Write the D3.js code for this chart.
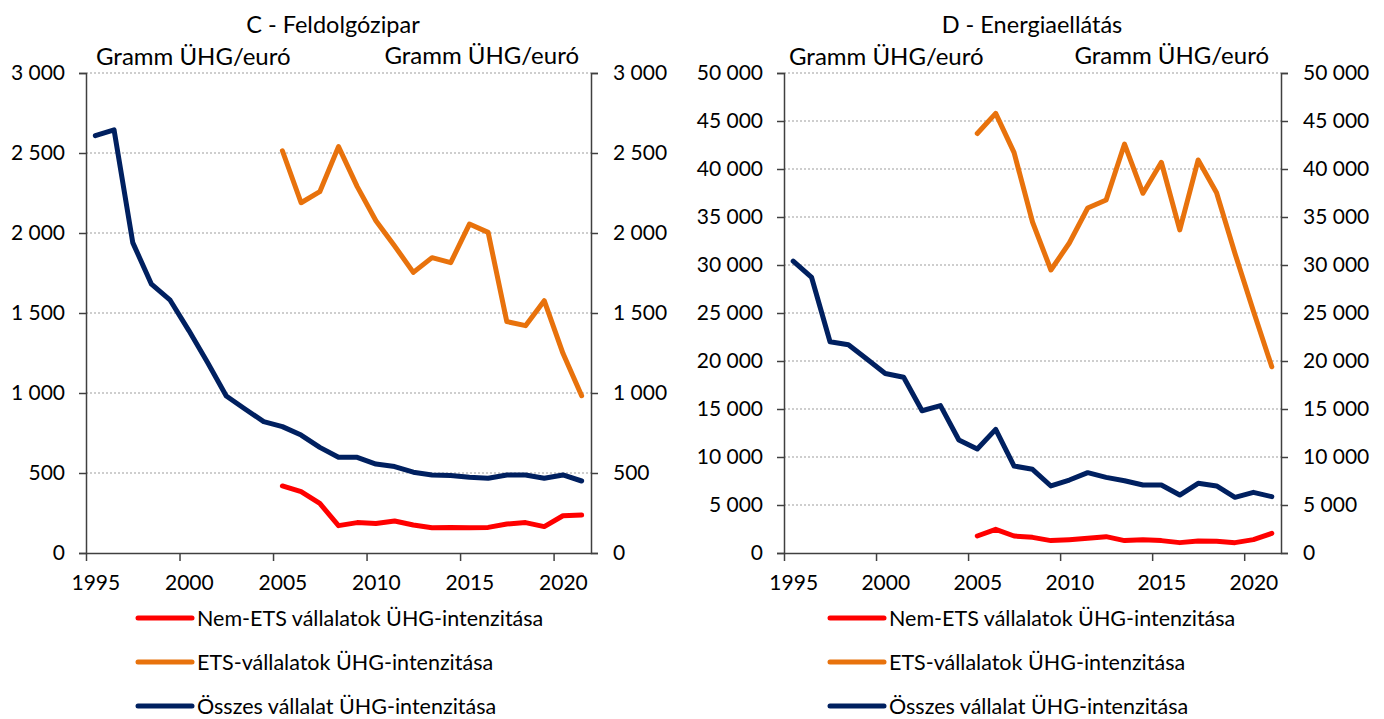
<!DOCTYPE html>
<html><head><meta charset="utf-8">
<script src="https://cdn.jsdelivr.net/npm/d3@7"></script>
<style>
body{margin:0;background:#fff;}
text{font-family:Lato,"Noto Sans",sans-serif;fill:#000;}
</style></head>
<body><svg id="c" width="1384" height="719"></svg>
<script>
const years = d3.range(1995, 2022);
const labelYears = [1995, 2000, 2005, 2010, 2015, 2020];
const seriesNames = ["Nem-ETS vállalatok ÜHG-intenzitása", "ETS-vállalatok ÜHG-intenzitása", "Összes vállalat ÜHG-intenzitása"];
const seriesColors = ["#FF0000", "#E8720C", "#002060"];
const titles = ["C - Feldolgózipar", "D - Energiaellátás"];
const unitLabel = "Gramm ÜHG/euró";

// C - Feldolgózipar (1995-2021)
const cTotal = [2608, 2645, 1940, 1680, 1580, 1390, 1190, 981, 900, 821, 790, 737, 660, 598, 598, 556, 540, 505, 488, 485, 473, 467, 488, 488, 467, 488, 450];
const cEts = [null, null, null, null, null, null, null, null, null, null, 2514, 2189, 2258, 2540, 2290, 2077, 1919, 1754, 1846, 1815, 2056, 2004, 1446, 1421, 1577, 1248, 983];
const cNonEts = [null, null, null, null, null, null, null, null, null, null, 419, 383, 310, 171, 190, 185, 200, 175, 158, 160, 158, 160, 181, 190, 165, 233, 237];
const cTicks = [0, 500, 1000, 1500, 2000, 2500, 3000];

// D - Energiaellátás (1995-2021)
const dTotal = [30400, 28700, 22000, 21700, 20200, 18700, 18300, 14820, 15350, 11770, 10830, 12880, 9060, 8720, 6980, 7600, 8370, 7880, 7530, 7080, 7080, 6040, 7260, 6980, 5800, 6320, 5870];
const dEts = [null, null, null, null, null, null, null, null, null, null, 43700, 45800, 41700, 34480, 29480, 32290, 35940, 36770, 42600, 37470, 40700, 33650, 40940, 37530, 31200, 25200, 19400];
const dNonEts = [null, null, null, null, null, null, null, null, null, null, 1770, 2470, 1770, 1630, 1290, 1390, 1530, 1700, 1290, 1390, 1290, 1080, 1250, 1220, 1080, 1390, 2050];
const dTicks = [0, 5000, 10000, 15000, 20000, 25000, 30000, 35000, 40000, 45000, 50000];

const fmt = d3.formatLocale({decimal: ",", thousands: " ", grouping: [3], currency: ["", ""]}).format(",");
const svg = d3.select("#c");

function panel(cfg) {
  const g = svg.append("g");
  const x = d3.scaleLinear().domain([1994.5, 2021.5]).range([cfg.x0, cfg.x1]);
  const y = d3.scaleLinear().domain([0, cfg.max]).range([553, 73]);
  const axisColor = "#404040";

  g.append("g").selectAll("line").data(cfg.ticks.filter(d => d > 0)).join("line")
    .attr("x1", cfg.x0).attr("x2", cfg.x1)
    .attr("y1", d => y(d)).attr("y2", d => y(d))
    .attr("stroke", "#BFBFBF").attr("stroke-width", 1.5).attr("stroke-dasharray", "2,2");

  const ya = g.append("g").attr("transform", `translate(${cfg.x0},0)`)
    .call(d3.axisLeft(y).tickValues(cfg.ticks).tickFormat(fmt).tickSize(7).tickPadding(14));
  const yb = g.append("g").attr("transform", `translate(${cfg.x1},0)`)
    .call(d3.axisRight(y).tickValues(cfg.ticks).tickFormat(fmt).tickSize(7).tickPadding(15));
  const xa = g.append("g").attr("transform", "translate(0,553)")
    .call(d3.axisBottom(x).tickValues(labelYears.map(v => v - 0.5)).tickFormat("").tickSize(8).tickSizeOuter(0));
  const xl = g.append("g").attr("transform", "translate(0,553)")
    .call(d3.axisBottom(x).tickValues(labelYears).tickFormat(d3.format("d")).tickSize(0).tickPadding(22));
  xl.select(".domain").remove();
  [ya, yb, xa].forEach(a => {
    a.selectAll("path.domain").attr("stroke", axisColor).attr("stroke-width", 1.5);
    a.selectAll(".tick line").attr("stroke", axisColor).attr("stroke-width", 1.5);
  });
  g.selectAll(".tick text").attr("font-size", 21).attr("font-family", "Lato").attr("fill", "#000");

  g.append("text").attr("x", cfg.titleX).attr("y", 33).attr("text-anchor", "middle").attr("font-size", 23.5).text(cfg.title);
  g.append("text").attr("x", cfg.x0 + cfg.unitOffL).attr("y", 65).attr("font-size", 24).text(unitLabel);
  g.append("text").attr("x", cfg.x1 - 12).attr("y", 64).attr("text-anchor", "end").attr("font-size", 24).text(unitLabel);

  const line = d3.line().defined(d => d[1] != null).x(d => x(d[0])).y(d => y(d[1]));
  cfg.series.forEach((s, i) => {
    g.append("path").datum(years.map((yr, k) => [yr, s[k]]))
      .attr("d", line).attr("fill", "none").attr("stroke", seriesColors[i])
      .attr("stroke-width", 5).attr("stroke-linejoin", "round").attr("stroke-linecap", "round");
  });

  const lg = g.append("g");
  seriesNames.forEach((n, i) => {
    const yy = [618, 662, 706][i];
    lg.append("line").attr("x1", cfg.legX).attr("x2", cfg.legX + 54).attr("y1", yy).attr("y2", yy)
      .attr("stroke", seriesColors[i]).attr("stroke-width", 5).attr("stroke-linecap", "round");
    lg.append("text").attr("x", cfg.legX + 59).attr("y", yy).attr("dy", "0.35em").attr("font-size", 21.5).text(n);
  });
}

panel({x0: 86, x1: 591, max: 3000, ticks: cTicks, series: [cNonEts, cEts, cTotal], title: titles[0], titleX: 333, unitOffL: 10, legX: 138});
panel({x0: 784, x1: 1281, max: 50000, ticks: dTicks, series: [dNonEts, dEts, dTotal], title: titles[1], titleX: 1032, unitOffL: 5, legX: 830});
</script></body></html>
